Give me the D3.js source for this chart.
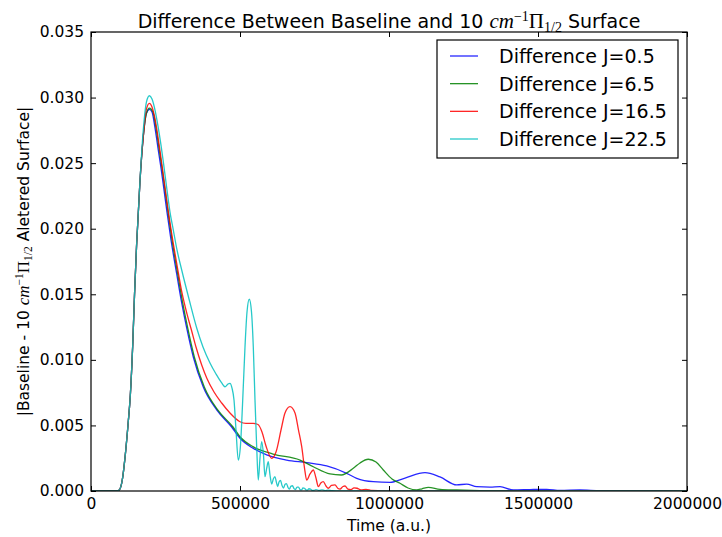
<!DOCTYPE html>
<html>
<head>
<meta charset="utf-8">
<script src="https://cdn.jsdelivr.net/npm/d3@7"></script>
<style>
body { margin: 0; background: #fff; }
text { font-family: "DejaVu Sans", sans-serif; fill: #000; }
</style>
</head>
<body>
<svg id="chart" width="722" height="537"></svg>
<script>
// legend labels
var labels = ["Difference J=0.5", "Difference J=6.5", "Difference J=16.5", "Difference J=22.5"];
var colors = ["#0000ff", "#008000", "#ff0000", "#00bfbf"];

var xTicks = [0, 500000, 1000000, 1500000, 2000000];
var yTicks = [0, 0.005, 0.010, 0.015, 0.020, 0.025, 0.030, 0.035];

// [time (a.u.), |difference|]
var j05 = [[0,0],[85000,0],[95000,0.00008],[105000,0.00084],[115000,0.00274],[125000,0.00526],[132000,0.00732],[140000,0.01113],[146000,0.01495],[153000,0.01876],[164000,0.02349],[175000,0.02692],[186000,0.0288],[196000,0.0291],
  [204700,0.0289],[214800,0.02768],[224800,0.02615],[234900,0.02463],[245000,0.02295],[255000,0.02127],[268500,0.01914],[287600,0.01655],[304400,0.01434],[321100,0.01243],[343300,0.01022],[376800,0.00793],[421800,0.00618],[472100,0.00488],[500000,0.00402],[543600,0.00326],[589600,0.00275],[656700,0.00236],[723800,0.00216],[790900,0.00191],[858000,0.00135],[891600,0.00097],[947300,0.00071],[1003300,0.00066],[1053700,0.00099],[1120800,0.0014],[1171100,0.00107],[1227200,0.00046],[1260700,0.00053],[1294300,0.00033],[1338900,0.0003],[1372500,0.00033],[1417100,0.00008],[1473200,0.00011],[1529200,0.00013],[1573800,0.00004],[1640900,0.00008],[1708000,0.00002],[1842300,0],[2000000,0]];

var j65 = [[0,0],[85000,0],[95000,0.00008],[105000,0.00084],[115000,0.00274],[125000,0.00526],[132000,0.00732],[140000,0.01113],[146000,0.01495],[153000,0.01876],[164000,0.02349],[175000,0.02692],[186000,0.0288],[196000,0.0292],
  [208000,0.0289],[218200,0.02768],[228200,0.02615],[238300,0.02463],[248400,0.02295],[258400,0.02127],[271900,0.01914],[291000,0.01655],[307800,0.01434],[324500,0.01243],[346700,0.01022],[380200,0.00793],[425200,0.00618],[476500,0.00488],[500000,0.00414],[543600,0.00338],[610700,0.00282],[701300,0.00236],[746000,0.00185],[802000,0.0013],[840000,0.00122],[880200,0.00173],[902700,0.00214],[930500,0.00242],[956400,0.00221],[980900,0.0016],[1010100,0.00092],[1036900,0.00059],[1063800,0.00023],[1092900,0.00008],[1110700,0.00017],[1131900,0.00028],[1171100,0.00013],[1227200,0.00008],[1305300,0.00003],[1439600,0],[2000000,0]];

var j165 = [[0,0],[85000,0],[95000,0.00008],[105000,0.00084],[115000,0.00274],[125000,0.00526],[132000,0.00732],[140000,0.01113],[146000,0.01495],[153000,0.01876],[164000,0.02349],[175000,0.02692],[186000,0.02913],[196000,0.02956],
  [204700,0.02928],[214800,0.02837],[224800,0.02699],[234900,0.02539],[245000,0.02371],[255000,0.02204],[265100,0.02044],[275200,0.01899],[288600,0.01723],[305400,0.0151],[322100,0.0135],[337900,0.0122],[352300,0.01098],[371500,0.00961],[388300,0.00862],[412800,0.00755],[438600,0.00671],[466400,0.00595],[500000,0.00528],[520100,0.00516],[544600,0.00516],[560400,0.00507],[573800,0.0045],[587200,0.00343],[606400,0.00249],[620800,0.00297],[637600,0.00465],[651000,0.00595],[667800,0.00643],[684600,0.00595],[696300,0.00465],[707100,0.00338],[716500,0.00175],[723800,0.00084],[734900,0.0013],[746000,0.0016],[755000,0.00099],[762800,0.00033],[771100,0.00061],[779500,0.00071],[788600,0.00038],[796300,0.00021],[807000,0.00042],[818800,0.00046],[828900,0.00019],[835600,0.00015],[845600,0.00034],[852300,0.00038],[862400,0.00015],[872500,0.00011],[882500,0.00024],[892600,0.00021],[906000,0.00008],[922800,0.00013],[942900,0.00004],[969800,0.00002],[1036900,0],[2000000,0]];

var j225 = [[0,0],[85000,0],[95000,0.00008],[105000,0.00084],[115000,0.00274],[125000,0.00526],[132000,0.00732],[140000,0.01113],[146000,0.01495],[153000,0.01876],[164000,0.02349],[175000,0.0274],[186000,0.02966],[196000,0.03014],
  [204700,0.02989],[214800,0.02905],[224800,0.02783],[234900,0.02638],[245000,0.0247],[255000,0.02295],[265100,0.02127],[276200,0.0199],[288600,0.01838],[304400,0.01685],[328900,0.01464],[354700,0.01243],[375800,0.01098],[399300,0.00976],[419500,0.00892],[438600,0.00824],[449700,0.00795],[459700,0.00816],[466400,0.00821],[473200,0.00785],[479900,0.00694],[486600,0.00465],[494300,0.00236],[501700,0.00351],[508400,0.00656],[516800,0.011],[523500,0.01365],[531200,0.01462],[538600,0.01365],[544600,0.011],[550300,0.00694],[556000,0.00338],[561400,0.00084],[567100,0.00252],[572800,0.00376],[578800,0.00275],[583800,0.00109],[589600,0.00175],[594900,0.00223],[600700,0.00122],[606400,0.00053],[611800,0.00092],[617400,0.00109],[621800,0.00069],[626500,0.00033],[630900,0.00069],[636000,0.0008],[641000,0.00042],[646000,0.00023],[651000,0.0005],[656000,0.00057],[661100,0.00027],[666100,0.00015],[671100,0.00038],[676200,0.0004],[681200,0.00018],[686200,0.00011],[691300,0.0003],[696300,0.0003],[701300,0.00011],[706400,0.00008],[711400,0.00023],[716500,0.00021],[721500,0.00008],[726500,0.00006],[731500,0.00017],[736600,0.00015],[741600,0.00005],[748000,0.00005],[755000,0.00011],[765100,0.00004],[775100,0.00009],[785200,0.00003],[795300,0.00007],[808700,0.00002],[835600,0],[2000000,0]];

var series = [j05, j65, j165, j225];

var plotLeft = 91, plotRight = 687, plotTop = 32, plotBottom = 491;

var svg = d3.select("#chart");

var xScale = d3.scaleLinear().domain([0, 2000000]).range([plotLeft, plotRight]);
var yScale = d3.scaleLinear().domain([0, 0.035]).range([plotBottom, plotTop]);

var line = d3.line()
  .x(function(d) { return xScale(d[0]); })
  .y(function(d) { return yScale(d[1]); })
  .curve(d3.curveMonotoneX);

// clip so nothing leaks past the frame
svg.append("clipPath").attr("id", "plotclip")
  .append("rect").attr("x", plotLeft).attr("y", plotTop).attr("width", plotRight - plotLeft).attr("height", plotBottom - plotTop);

svg.append("g").attr("clip-path", "url(#plotclip)")
  .selectAll("path")
  .data(series)
  .enter()
  .append("path")
  .attr("d", line)
  .attr("fill", "none")
  .attr("stroke", function(d, i) { return colors[i]; })
  .attr("stroke-width", 1.3)
  .attr("stroke-opacity", 0.85);

// axes, ticks pointing inward on all four sides
var xAxis = d3.axisBottom(xScale).tickValues(xTicks).tickFormat(d3.format("d")).tickSizeInner(-5).tickSizeOuter(0).tickPadding(7);
var xTop = d3.axisTop(xScale).tickValues(xTicks).tickFormat("").tickSizeInner(-5).tickSizeOuter(0);
var yAxis = d3.axisLeft(yScale).tickValues(yTicks).tickFormat(d3.format(".3f")).tickSizeInner(-5).tickSizeOuter(0).tickPadding(7);
var yRight = d3.axisRight(yScale).tickValues(yTicks).tickFormat("").tickSizeInner(-5).tickSizeOuter(0);

var gx = svg.append("g").attr("transform", "translate(0," + plotBottom + ")").call(xAxis);
svg.append("g").attr("transform", "translate(0," + plotTop + ")").call(xTop);
var gy = svg.append("g").attr("transform", "translate(" + plotLeft + ",0)").call(yAxis);
svg.append("g").attr("transform", "translate(" + plotRight + ",0)").call(yRight);

svg.selectAll(".domain").remove();
svg.selectAll(".tick line").attr("stroke", "#000").attr("stroke-width", 1);
gx.selectAll("text").attr("font-size", 15.5).attr("font-family", "DejaVu Sans");
gy.selectAll("text").attr("font-size", 15.5).attr("font-family", "DejaVu Sans");

// frame
svg.append("rect")
  .attr("x", plotLeft).attr("y", plotTop)
  .attr("width", plotRight - plotLeft).attr("height", plotBottom - plotTop)
  .attr("fill", "none").attr("stroke", "#000").attr("stroke-width", 1.2);

// title with math part
var title = svg.append("text")
  .attr("x", (plotLeft + plotRight) / 2).attr("y", 28)
  .attr("text-anchor", "middle")
  .attr("font-size", 19);
title.append("tspan").text("Difference Between Baseline and 10 ");
title.append("tspan").attr("font-family", "Liberation Serif").attr("font-style", "italic").attr("font-size", 21).text("cm");
title.append("tspan").attr("font-family", "Liberation Serif").attr("font-size", 14).attr("dy", -7).text("\u22121");
title.append("tspan").attr("font-family", "Liberation Serif").attr("font-size", 21).attr("dy", 7).text("\u03A0");
title.append("tspan").attr("font-family", "Liberation Serif").attr("font-size", 14).attr("dy", 4).text("1/2");
title.append("tspan").attr("dy", -4).text(" Surface");

// axis labels
svg.append("text")
  .attr("x", (plotLeft + plotRight) / 2).attr("y", 531)
  .attr("text-anchor", "middle")
  .attr("font-size", 15.5)
  .text("Time (a.u.)");

var ylab = svg.append("text")
  .attr("transform", "translate(29," + ((plotTop + plotBottom) / 2) + ") rotate(-90)")
  .attr("text-anchor", "middle")
  .attr("font-size", 15.5);
ylab.append("tspan").text("|Baseline - 10 ");
ylab.append("tspan").attr("font-family", "Liberation Serif").attr("font-style", "italic").attr("font-size", 17).text("cm");
ylab.append("tspan").attr("font-family", "Liberation Serif").attr("font-size", 11.5).attr("dy", -6).text("\u22121");
ylab.append("tspan").attr("font-family", "Liberation Serif").attr("font-size", 17).attr("dy", 6).text("\u03A0");
ylab.append("tspan").attr("font-family", "Liberation Serif").attr("font-size", 11.5).attr("dy", 3).text("1/2");
ylab.append("tspan").attr("dy", -3).text(" Aletered Surface|");

// legend
var legend = svg.append("g");
legend.append("rect")
  .attr("x", 437).attr("y", 40).attr("width", 241).attr("height", 118)
  .attr("fill", "#fff").attr("stroke", "#000").attr("stroke-width", 1.2);

var rowY = d3.scalePoint().domain(labels).range([56, 139]);

var item = legend.selectAll(".item")
  .data(labels)
  .enter()
  .append("g")
  .attr("class", "item")
  .attr("transform", function(d) { return "translate(0," + rowY(d) + ")"; });

item.append("line")
  .attr("x1", 450).attr("x2", 478)
  .attr("stroke", function(d, i) { return colors[i]; })
  .attr("stroke-width", 1.3)
  .attr("stroke-opacity", 0.85);

item.append("text")
  .attr("x", 499).attr("y", 7)
  .attr("font-size", 19)
  .text(function(d) { return d; });
</script>
</body>
</html>
